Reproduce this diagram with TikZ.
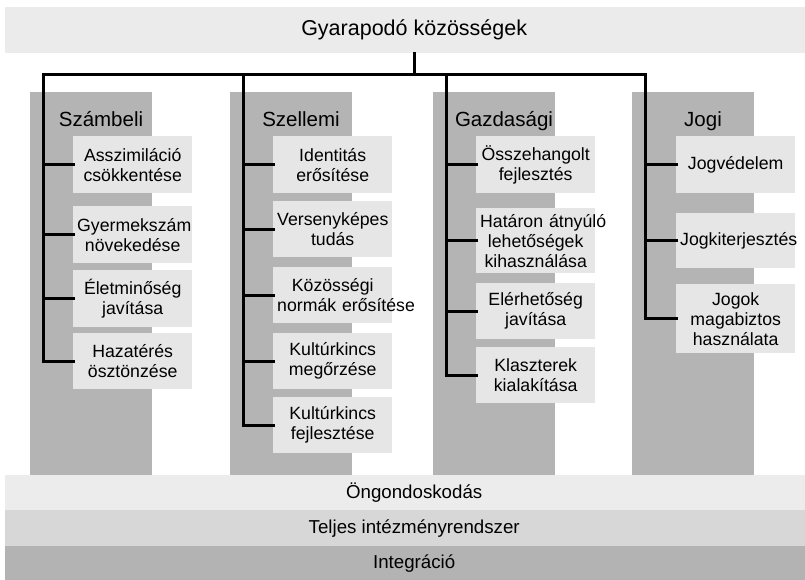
\documentclass[tikz,border=0pt]{standalone}
\usepackage{fontspec}
\setmainfont{Liberation Sans}
\definecolor{topgrey}{HTML}{EBEBEB}
\definecolor{pilgrey}{HTML}{B4B4B4}
\definecolor{itemgrey}{HTML}{E6E6E6}
\definecolor{bandA}{HTML}{ECECEC}
\definecolor{bandB}{HTML}{D7D7D7}
\definecolor{bandC}{HTML}{B3B3B3}

\begin{document}
\begin{tikzpicture}[x=1pt,y=-1pt,
	band/.style={anchor=north west, minimum width=818, inner sep=0pt, font=\fontsize{18.7}{20}\selectfont},
	pillar/.style={fill=pilgrey, anchor=north west, minimum width=122, minimum height=383, inner sep=0pt},
	head/.style={anchor=base, inner sep=0pt, font=\fontsize{20.5}{22}\selectfont},
	item/.style={fill=itemgrey, anchor=north west, text width=111pt, inner xsep=4pt, inner ysep=2pt, align=center, font=\fontsize{17.7}{20}\selectfont},
	conn/.style={line width=3pt, line cap=rect}]
	\useasboundingbox (0,0) rectangle (805,580);

	%顶部与底部横条
	\node [band, fill=topgrey, minimum height=46, font=\fontsize{21.5}{24}\selectfont] (title) at (5,7) {Gyarapodó közösségek};
	\node [band, fill=bandA, minimum height=35] (b1) at (5,475) {Öngondoskodás};
	\node [band, fill=bandB, minimum height=36] (b2) at (5,510) {Teljes intézményrendszer};
	\node [band, fill=bandC, minimum height=34] (b3) at (5,546) {Integráció};

	%四根柱子
	\foreach \x/\n/\t in {30/1/Számbeli,230/2/Szellemi,433/3/Gazdasági,632/4/Jogi}{
		\node [pillar] (p\n) at (\x,92) {};
		\node [head] (h\n) at (\x+71,127) {\t};
		\coordinate (v\n) at (\x+13,75);
	}

	%总线
	\draw [conn] (title.south) -- (title.south |- v1);
	\draw [conn] (v1) -- (v4);

	%数量
	\foreach \y/\h/\t [count=\i] in {136/57/{Asszimiláció\\csökkentése},206/57/{Gyermekszám\\növekedése},270/57/{Életminőség\\javítása},333/56/{Hazatérés\\ösztönzése}}{
		\node [item, minimum height=\h] (a\i) at (73,\y) {\t};
		\draw [conn] (v1) |- (a\i.west);
	}

	%精神
	\foreach \y/\h/\t [count=\i] in {136/57/{Identitás\\erősítése},201/56/{Versenyképes\\tudás},267/56/{Közösségi\\\mbox{normák erősítése}},333/56/{Kultúrkincs\\megőrzése},397/56/{Kultúrkincs\\fejlesztése}}{
		\node [item, minimum height=\h] (b\i) at (273,\y) {\t};
		\draw [conn] (v2) |- (b\i.west);
	}

	%经济
	\foreach \y/\h/\t [count=\i] in {136/57/{Összehangolt\\fejlesztés},208/65/{\mbox{Határon átnyúló}\\lehetőségek\\kihasználása},283/56/{Elérhetőség\\javítása},347/56/{Klaszterek\\kialakítása}}{
		\node [item, minimum height=\h] (c\i) at (476,\y) {\t};
		\draw [conn] (v3) |- (c\i.west);
	}

	%法律
	\foreach \y/\h/\t [count=\i] in {136/57/{Jogvédelem},213/55/{\mbox{Jogkiterjesztés}},284/69/{Jogok\\magabiztos\\használata}}{
		\node [item, minimum height=\h] (d\i) at (676,\y) {\t};
		\draw [conn] (v4) |- (d\i.west);
	}
\end{tikzpicture}
\end{document}
